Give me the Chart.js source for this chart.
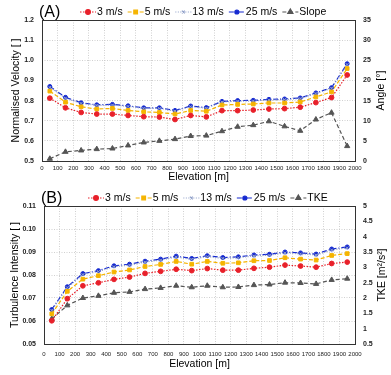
<!DOCTYPE html>
<html>
<head>
<meta charset="utf-8">
<script src="https://cdn.jsdelivr.net/npm/chart.js@4.4.1/dist/chart.umd.min.js"></script>
<style>
  html, body { margin: 0; padding: 0; background: #fff; }
  #wrapA { position: absolute; left: 0; top: 0; width: 391px; height: 185px; }
  #wrapB { position: absolute; left: 0; top: 185px; width: 391px; height: 190px; }
</style>
</head>
<body>
<div id="wrapA"><canvas id="panelA"></canvas></div>
<div id="wrapB"><canvas id="panelB"></canvas></div>
<script>
// elevation of each sample [m]
const elevation = [50,150,250,350,450,550,650,750,850,950,1050,1150,1250,1350,1450,1550,1650,1750,1850,1950];

// (A) normalised velocity per inflow speed, terrain slope [deg]
const velocity3  = [0.812,0.764,0.741,0.733,0.733,0.726,0.720,0.718,0.706,0.726,0.719,0.750,0.750,0.753,0.758,0.760,0.767,0.790,0.815,0.927];
const velocity5  = [0.847,0.792,0.769,0.758,0.761,0.751,0.744,0.741,0.733,0.751,0.747,0.778,0.781,0.783,0.788,0.788,0.793,0.818,0.843,0.959];
const velocity13 = [0.866,0.812,0.786,0.776,0.778,0.771,0.761,0.761,0.748,0.770,0.762,0.793,0.797,0.798,0.803,0.805,0.810,0.835,0.861,0.979];
const velocity25 = [0.870,0.816,0.789,0.779,0.781,0.774,0.764,0.764,0.751,0.773,0.765,0.796,0.800,0.801,0.806,0.808,0.813,0.838,0.864,0.983];
const slope      = [0.55,2.28,2.62,2.95,3.10,3.86,4.60,5.00,5.43,6.20,6.30,7.40,8.50,8.90,9.85,8.60,7.50,10.3,12.0,3.70];

// (B) turbulence intensity per inflow speed, TKE [m2/s2]
const ti3  = [0.0601,0.0697,0.0753,0.0766,0.0781,0.0791,0.0807,0.0816,0.0825,0.0819,0.0828,0.0821,0.0821,0.0829,0.0834,0.0843,0.0839,0.0834,0.0850,0.0856];
const ti5  = [0.0631,0.0729,0.0782,0.0797,0.0813,0.0822,0.0837,0.0846,0.0859,0.0847,0.0859,0.0851,0.0853,0.0862,0.0863,0.0875,0.0869,0.0865,0.0885,0.0893];
const ti13 = [0.0646,0.0745,0.0802,0.0815,0.0836,0.0843,0.0856,0.0865,0.0878,0.0868,0.0880,0.0872,0.0875,0.0883,0.0886,0.0896,0.0892,0.0887,0.0909,0.0918];
const ti25 = [0.0650,0.0749,0.0806,0.0819,0.0840,0.0847,0.0860,0.0869,0.0882,0.0872,0.0884,0.0876,0.0879,0.0887,0.0890,0.0900,0.0896,0.0891,0.0913,0.0922];
const tke  = [1.32,1.76,2.00,2.07,2.17,2.20,2.29,2.33,2.40,2.35,2.40,2.35,2.36,2.42,2.44,2.50,2.49,2.46,2.59,2.63];

const FONT = "'Liberation Sans', Arial, sans-serif";

function pts(values) {
  return values.map((v, i) => ({ x: elevation[i], y: v }));
}

function series(label, values, color, dash, style, radius, axis) {
  return {
    label: label, data: pts(values), yAxisID: axis,
    borderColor: color, backgroundColor: color, borderWidth: 1.2, borderDash: dash,
    pointStyle: style, pointRadius: radius, pointBorderWidth: 1,
    pointBackgroundColor: color, pointBorderColor: color, tension: 0
  };
}

function speedSets(a, b, c, d) {
  return [
    series('3 m/s',  a, '#e8202a', [1.5, 1.5], 'circle', 2.4, 'y'),
    series('5 m/s',  b, '#f5b400', [4, 2], 'rect', 2.6, 'y'),
    series('13 m/s', c, '#8f9fc8', [1, 1.5], 'crossRot', 2, 'y'),
    series('25 m/s', d, '#1428d0', [5, 2, 1, 2], 'circle', 2, 'y')
  ];
}

// frame, panel tag, legend with line + marker, right-hand title
const decor = {
  id: 'decor',
  afterDraw(chart, args, o) {
    const ctx = chart.ctx, a = chart.chartArea;
    ctx.save();
    ctx.setLineDash([]);
    ctx.strokeStyle = '#333';
    ctx.lineWidth = 1;
    ctx.strokeRect(Math.round(a.left) + 0.5, Math.round(a.top) + 0.5,
                   Math.round(a.right - a.left), Math.round(a.bottom - a.top));

    ctx.fillStyle = '#000';
    ctx.textBaseline = 'middle';
    ctx.font = '16px ' + FONT;
    ctx.fillText(o.tag, o.tagX, o.legendY + 1);

    ctx.font = '10.5px ' + FONT;
    let x = o.legendX;
    const y = o.legendY;
    chart.data.datasets.forEach(ds => {
      ctx.strokeStyle = ds.borderColor;
      ctx.lineWidth = ds.borderWidth;
      ctx.setLineDash(ds.borderDash || []);
      ctx.beginPath();
      ctx.moveTo(x, y);
      ctx.lineTo(x + 16, y);
      ctx.stroke();
      ctx.setLineDash([]);
      ctx.fillStyle = ds.borderColor;
      Chart.helpers.drawPoint(ctx, { pointStyle: ds.pointStyle, radius: ds.pointRadius, borderWidth: 1 }, x + 8, y);
      ctx.fillStyle = '#000';
      ctx.fillText(ds.label, x + 17, y + 0.5);
      x += 17 + ctx.measureText(ds.label).width + 5;
    });

    ctx.translate(o.rightTitleX, (a.top + a.bottom) / 2);
    ctx.rotate(-Math.PI / 2);
    ctx.textAlign = 'center';
    ctx.font = '10.5px ' + FONT;
    ctx.fillText(o.rightTitle, 0, 0);
    ctx.restore();
  }
};

function makePanel(id, datasets, p) {
  const grid = { color: '#c4c4c4', lineWidth: 0.8, drawTicks: false };
  new Chart(document.getElementById(id), {
    type: 'line',
    data: { datasets: datasets },
    plugins: [decor],
    options: {
      responsive: true, maintainAspectRatio: false, animation: false,
      layout: { padding: { top: p.padTop, left: 0, right: 0, bottom: 0 } },
      plugins: { legend: { display: false }, tooltip: { enabled: false }, decor: p.decor },
      scales: {
        x: {
          type: 'linear', min: 0, max: 2000,
          grid: grid, border: { display: false, dash: [1, 1.5] },
          afterFit: s => { s.height = p.xHeight; },
          ticks: { stepSize: 100, autoSkip: false, maxRotation: 0, padding: p.xTickPad,
                   color: '#222', font: { family: FONT, size: 6 }, callback: v => String(v) },
          title: { display: true, text: 'Elevation [m]', color: '#000', padding: { top: 0, bottom: p.xTitlePad },
                   font: { family: FONT, size: 10.5 } }
        },
        y: {
          position: 'left', min: p.yMin, max: p.yMax,
          grid: grid, border: { display: false, dash: [1, 1.5] },
          afterFit: s => { s.width = p.leftWidth; },
          ticks: { stepSize: p.yStep, padding: 8, color: '#222',
                   font: { family: FONT, size: 7, weight: 'bold' },
                   callback: v => v.toFixed(p.yDigits) },
          title: { display: true, text: p.yTitle, color: '#000', padding: { top: p.yTitlePad, bottom: 0 },
                   font: { family: FONT, size: 10.5 } }
        },
        y2: {
          position: 'right', min: p.y2Min, max: p.y2Max,
          grid: { display: false, drawTicks: false }, border: { display: false },
          afterFit: s => { s.width = p.rightWidth; },
          ticks: { stepSize: p.y2Step, padding: 8, color: '#222',
                   font: { family: FONT, size: 7, weight: 'bold' },
                   callback: v => String(+v.toFixed(1)) }
        }
      }
    }
  });
}

const setsA = speedSets(velocity3, velocity5, velocity13, velocity25);
setsA.push(series('Slope', slope, '#555555', [4, 2.5], 'triangle', 3, 'y2'));
makePanel('panelA', setsA, {
  padTop: 20, xHeight: 24, xTickPad: 4, xTitlePad: 2, leftWidth: 42, rightWidth: 36,
  yMin: 0.5, yMax: 1.2, yStep: 0.1, yDigits: 1, yTitle: 'Normalised Velocity [ ]', yTitlePad: 10,
  y2Min: 0, y2Max: 35, y2Step: 5,
  decor: { tag: '(A)', tagX: 39, legendX: 80, legendY: 12, rightTitle: 'Angle [°]', rightTitleX: 381 }
});

const setsB = speedSets(ti3, ti5, ti13, ti25);
setsB.push(series('TKE', tke, '#555555', [4, 2.5], 'triangle', 3, 'y2'));
makePanel('panelB', setsB, {
  padTop: 21, xHeight: 31, xTickPad: 7, xTitlePad: 5, leftWidth: 44, rightWidth: 36,
  yMin: 0.05, yMax: 0.11, yStep: 0.01, yDigits: 2, yTitle: 'Turbulence Intensity [ ]', yTitlePad: 9,
  y2Min: 0.5, y2Max: 5, y2Step: 0.5,
  decor: { tag: '(B)', tagX: 41, legendX: 88, legendY: 13, rightTitle: 'TKE [m²/s²]', rightTitleX: 382 }
});
</script>
</body>
</html>
